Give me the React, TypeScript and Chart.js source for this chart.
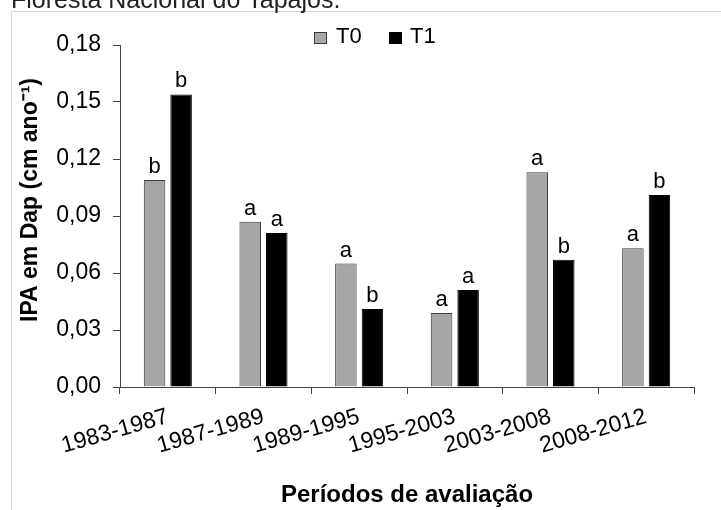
import { useEffect, useRef } from "react";
import { Chart, registerables } from "chart.js";

Chart.register(...registerables);

const categories = ["1983-1987", "1987-1989", "1989-1995", "1995-2003", "2003-2008", "2008-2012"];
const seriesNames = ["T0", "T1"];
const t0Values = [0.109, 0.087, 0.065, 0.039, 0.113, 0.073];
const t1Values = [0.154, 0.081, 0.041, 0.051, 0.067, 0.101];
const t0Letters = ["b", "a", "a", "a", "a", "a"];
const t1Letters = ["b", "a", "b", "a", "b", "b"];
const yMin = 0;
const yMax = 0.18;
const yStep = 0.03;
const pageTitle = "Floresta Nacional do Tapajós.";
const yAxisTitle = "IPA em Dap (cm ano⁻¹)";
const xAxisTitle = "Períodos de avaliação";

const FONT = "Arial, 'Liberation Sans', sans-serif";
const seriesFill = ["#a6a6a6", "#000000"];
const seriesBorder = ["#3a3a3a", "#000000"];
const letters = [t0Letters, t1Letters];

const decorPlugin = {
  id: "decor",
  beforeDraw(chart: any) {
    const ctx = chart.ctx;
    ctx.save();
    ctx.fillStyle = "#ffffff";
    ctx.fillRect(0, 0, chart.width, chart.height);
    ctx.strokeStyle = "#d8d8d8";
    ctx.lineWidth = 1;
    ctx.strokeRect(11.5, 11.5, 900, 700);
    ctx.fillStyle = "#222222";
    ctx.font = `25px ${FONT}`;
    ctx.textAlign = "left";
    ctx.textBaseline = "alphabetic";
    ctx.fillText(pageTitle, 11, 8);
    // y axis title
    ctx.save();
    ctx.translate(31, 200);
    ctx.rotate(-Math.PI / 2);
    ctx.fillStyle = "#000000";
    ctx.font = `bold 23px ${FONT}`;
    ctx.textAlign = "center";
    ctx.textBaseline = "middle";
    ctx.fillText(yAxisTitle, 0, 0);
    ctx.restore();
    ctx.restore();
  },
  afterDatasetsDraw(chart: any) {
    const ctx = chart.ctx;
    ctx.save();
    ctx.fillStyle = "#000000";
    ctx.font = `22px ${FONT}`;
    ctx.textAlign = "center";
    ctx.textBaseline = "alphabetic";
    chart.data.datasets.forEach((ds: any, di: number) => {
      const meta = chart.getDatasetMeta(di);
      meta.data.forEach((el: any, i: number) => {
        ctx.fillText(letters[di][i], el.x, el.y - 7);
      });
    });
    // legend
    const items = [
      { x: 314, tx: 336 },
      { x: 389, tx: 410 },
    ];
    ctx.font = `22px ${FONT}`;
    ctx.textAlign = "left";
    ctx.textBaseline = "middle";
    items.forEach((it, i) => {
      ctx.fillStyle = seriesFill[i];
      ctx.fillRect(it.x, 32, 13, 12);
      ctx.strokeStyle = seriesBorder[i];
      ctx.lineWidth = 1;
      ctx.strokeRect(it.x + 0.5, 32.5, 12, 11);
      ctx.fillStyle = "#000000";
      ctx.fillText(seriesNames[i], it.tx, 37);
    });
    ctx.restore();
  },
};

export default function App() {
  const ref = useRef<HTMLCanvasElement | null>(null);
  useEffect(() => {
    if (!ref.current) return;
    const chart = new Chart(ref.current, {
      type: "bar",
      data: {
        labels: categories,
        datasets: [
          {
            label: seriesNames[0],
            data: t0Values,
            backgroundColor: seriesFill[0],
            borderColor: seriesBorder[0],
            borderWidth: 1,
            barPercentage: 0.81,
            categoryPercentage: 0.555,
          },
          {
            label: seriesNames[1],
            data: t1Values,
            backgroundColor: seriesFill[1],
            borderColor: seriesBorder[1],
            borderWidth: 1,
            barPercentage: 0.81,
            categoryPercentage: 0.555,
          },
        ],
      },
      options: {
        responsive: false,
        animation: false,
        devicePixelRatio: 1,
        layout: { padding: { left: 0, top: 45, right: 27, bottom: 0 } },
        plugins: {
          legend: { display: false },
          tooltip: { enabled: false },
        },
        scales: {
          x: {
            grid: {
              display: true,
              offset: true,
              drawOnChartArea: false,
              drawTicks: true,
              tickLength: 7,
              color: "#444444",
            },
            border: { display: true, color: "#444444", width: 1 },
            ticks: {
              color: "#000000",
              font: { family: FONT, size: 23 },
              maxRotation: 16,
              minRotation: 16,
              padding: 9,
              autoSkip: false,
            },
            title: {
              display: true,
              text: xAxisTitle,
              color: "#000000",
              font: { family: FONT, size: 24, weight: "bold" },
              padding: { top: 0, bottom: 0 },
            },
            afterFit(scale: any) {
              scale.height = 510 - 387;
            },
          },
          y: {
            min: yMin,
            max: yMax,
            ticks: {
              stepSize: yStep,
              color: "#000000",
              font: { family: FONT, size: 23 },
              padding: 12,
              callback: (v: any) => Number(v).toFixed(2).replace(".", ","),
            },
            grid: {
              display: true,
              drawOnChartArea: false,
              drawTicks: true,
              tickLength: 7,
              color: "#444444",
            },
            border: { display: true, color: "#444444", width: 1 },
            title: { display: false },
            afterFit(scale: any) {
              scale.width = 120;
            },
          },
        },
      },
      plugins: [decorPlugin],
    });
    return () => chart.destroy();
  }, []);
  return (
    <div style={{ position: "absolute", left: 0, top: 0, width: 721, height: 510 }}>
      <canvas ref={ref} width={721} height={510} style={{ display: "block" }} />
    </div>
  );
}
